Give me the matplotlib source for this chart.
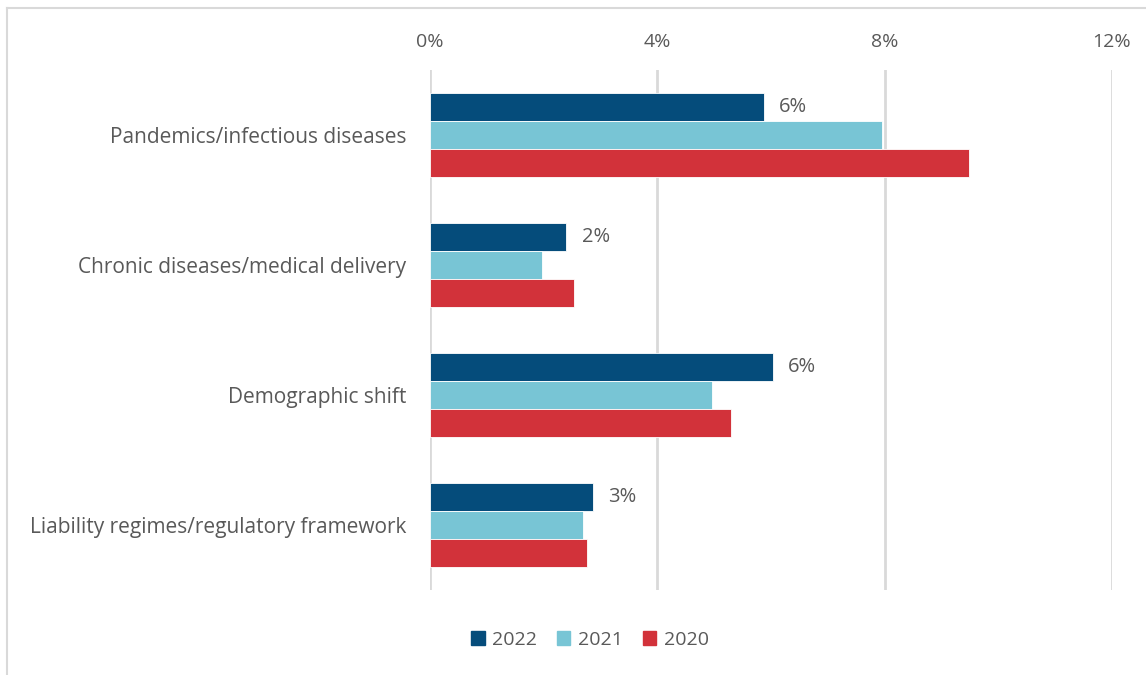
import numpy as np
import matplotlib
matplotlib.use('Agg')
from matplotlib import pyplot as plt
from matplotlib.lines import Line2D

categories = ['Pandemics/infectious diseases',
              'Chronic diseases/medical delivery',
              'Demographic shift',
              'Liability regimes/regulatory framework']
years = ['2022', '2021', '2020']
v2022 = [5.87, 2.40, 6.03, 2.86]
v2021 = [7.95, 1.97, 4.96, 2.70]
v2020 = [9.48, 2.53, 5.30, 2.76]
xticks = [0, 4, 8, 12]

colors = ['#054C7B', '#78C5D5', '#D2323A']
grey = '#595959'

plt.rcParams['font.family'] = ['Open Sans', 'DejaVu Sans']

fig = plt.figure(figsize=(11.46, 6.75), dpi=100)
ax = fig.add_axes([430 / 1146, 1 - 590 / 675, 682 / 1146, 520 / 675])

y = np.arange(len(categories))
h = 0.215
for i, (vals, c, yr) in enumerate(zip([v2022, v2021, v2020], colors, years)):
    ax.barh(y + (i - 1) * h, vals, height=h, color=c, label=yr, zorder=3,
            edgecolor='white', linewidth=0.6)

for yi, v in zip(y, v2022):
    ax.annotate(f'{round(v):.0f}%', (v, yi - h), xytext=(11, 0),
                textcoords='offset points', va='center', ha='left',
                fontsize=14.5, color=grey)

ax.set_xlim(0, 12)
ax.set_ylim(3.5, -0.5)
ax.set_xticks(xticks)
ax.set_xticklabels([f'{t}%' for t in xticks])
ax.xaxis.tick_top()
ax.tick_params(axis='x', length=0, pad=14, labelsize=14, labelcolor=grey)
ax.set_yticks(y)
ax.set_yticklabels(categories)
ax.tick_params(axis='y', length=0, pad=17, labelsize=15, labelcolor=grey)
ax.grid(axis='x', color='#D9D9D9', linewidth=2, zorder=0)
for s in ax.spines.values():
    s.set_visible(False)

handles = [plt.Rectangle((0, 0), 1, 1, color=c) for c in colors]
fig.legend(handles, years, loc='center', bbox_to_anchor=(590 / 1146, 1 - 640 / 675),
           ncol=3, frameon=False, fontsize=14, handlelength=0.7, handleheight=0.7,
           handletextpad=0.4, columnspacing=1.0, labelcolor=grey)

# light frame on the top and left edge
fig.add_artist(Line2D([7 / 1146, 1], [1 - 8 / 675, 1 - 8 / 675], color='#D9D9D9', lw=1.5))
fig.add_artist(Line2D([7 / 1146, 7 / 1146], [0, 1 - 8 / 675], color='#D9D9D9', lw=1.5))

plt.savefig('out.png', dpi=100)
